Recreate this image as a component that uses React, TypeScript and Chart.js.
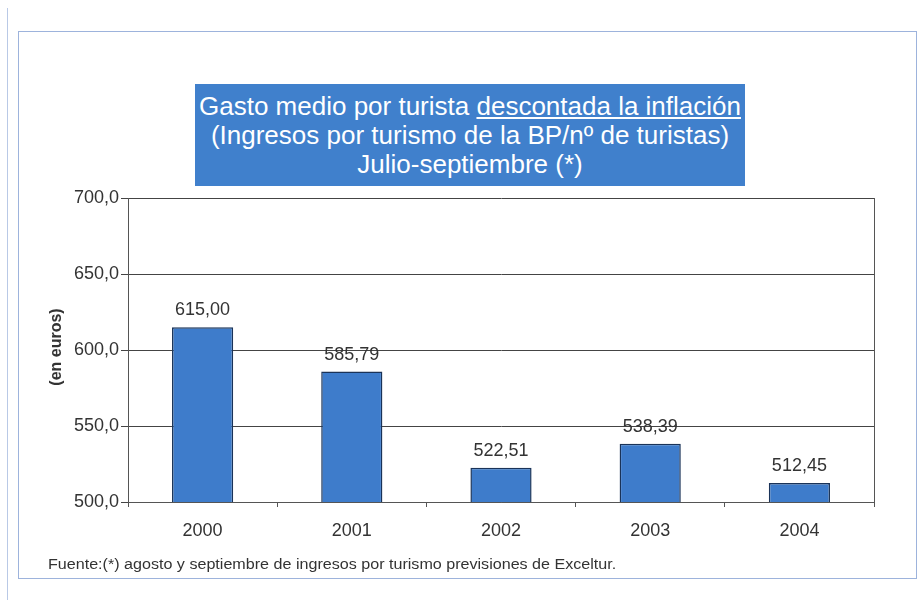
import React, { useEffect, useRef } from "react";
import { Chart, registerables } from "chart.js";

Chart.register(...registerables);

const categories = ["2000", "2001", "2002", "2003", "2004"];
const values = [615.0, 585.79, 522.51, 538.39, 512.45];
const yTicks = [500, 550, 600, 650, 700];
const titleLine1a = "Gasto medio por turista ";
const titleLine1b = "descontada la inflación";
const titleLine2 = "(Ingresos por turismo de la BP/nº de turistas)";
const titleLine3 = "Julio-septiembre (*)";
const yTitle = "(en euros)";
const footnote = "Fuente:(*) agosto y septiembre de ingresos por turismo previsiones de Exceltur.";

const fmt = (v: number, d: number) => v.toFixed(d).replace(".", ",");

const FONT = "Arial, 'Liberation Sans', Helvetica, sans-serif";

export default function App() {
  const ref = useRef<HTMLCanvasElement | null>(null);

  useEffect(() => {
    if (!ref.current) return;
    const extras = {
      id: "extras",
      afterDraw(chart: any) {
        const { ctx, chartArea } = chart;
        ctx.save();
        ctx.strokeStyle = "#555";
        ctx.lineWidth = 1;
        ctx.beginPath();
        ctx.moveTo(Math.round(chartArea.right) + 0.5, chartArea.top);
        ctx.lineTo(Math.round(chartArea.right) + 0.5, chartArea.bottom);
        ctx.stroke();
        const meta = chart.getDatasetMeta(0);
        ctx.fillStyle = "#333";
        ctx.font = `18px ${FONT}`;
        ctx.textAlign = "center";
        ctx.textBaseline = "bottom";
        meta.data.forEach((bar: any, i: number) => {
          ctx.fillText(fmt(values[i], 2), bar.x, bar.y - 8);
        });
        ctx.translate(57, (chartArea.top + chartArea.bottom) / 2 - 3);
        ctx.rotate(-Math.PI / 2);
        ctx.font = `bold 16px ${FONT}`;
        ctx.textBaseline = "middle";
        ctx.fillStyle = "#333";
        ctx.fillText(yTitle, 0, 0);
        ctx.restore();
      },
    };
    const chart = new Chart(ref.current, {
      type: "bar",
      data: {
        labels: categories,
        datasets: [
          {
            data: values,
            backgroundColor: "#3e7ccb",
            borderColor: "#1a3358",
            borderWidth: 1.5,
            borderSkipped: false,
            barPercentage: 0.41,
            categoryPercentage: 1,
          },
        ],
      },
      options: {
        responsive: false,
        animation: false,
        devicePixelRatio: 1,
        layout: { padding: { left: 20, right: 44, top: 198, bottom: 48 } },
        plugins: { legend: { display: false }, tooltip: { enabled: false }, title: { display: false } },
        scales: {
          x: {
            offset: true,
            grid: { display: true, drawOnChartArea: false, drawTicks: true, tickLength: 5, color: "#555", offset: true },
            border: { display: true, color: "#555" },
            ticks: { color: "#333", font: { size: 18, family: FONT }, padding: 13 },
            afterFit: (s: any) => { s.height = 50; },
          },
          y: {
            min: 500,
            max: 700,
            afterBuildTicks: (s: any) => { s.ticks = yTicks.map((v) => ({ value: v })); },
            grid: { color: "#444", lineWidth: 1, tickLength: 7 },
            border: { display: true, color: "#555" },
            ticks: {
              color: "#333",
              font: { size: 18, family: FONT },
              padding: 2,
              callback: (v: any) => fmt(Number(v), 1),
            },
            afterFit: (s: any) => { s.width = 108; },
          },
        },
      },
      plugins: [extras],
    } as any);
    return () => chart.destroy();
  }, []);

  return (
    <div style={{ position: "absolute", left: 0, top: 0, width: 918, height: 600, background: "#fff", fontFamily: FONT }}>
      <div style={{ position: "absolute", left: 7, top: 8, width: 1, height: 592, background: "#b9c9e6" }} />
      <div style={{ position: "absolute", left: 18, top: 31, width: 899, height: 548, border: "1px solid #9db3dc", boxSizing: "border-box" }} />
      <canvas ref={ref} width={918} height={600} style={{ position: "absolute", left: 0, top: 0, width: 918, height: 600 }} />
      <div
        style={{
          position: "absolute",
          left: 195,
          top: 84,
          width: 550,
          height: 102,
          background: "#4080cc",
          color: "#fff",
          fontSize: 26,
          lineHeight: "29px",
          textAlign: "center",
          paddingTop: 8,
          boxSizing: "border-box",
          whiteSpace: "nowrap",
        }}
      >
        <div>
          {titleLine1a}
          <span style={{ textDecoration: "underline" }}>{titleLine1b}</span>
        </div>
        <div>{titleLine2}</div>
        <div>{titleLine3}</div>
      </div>
      <div
        style={{
          position: "absolute",
          left: 48,
          top: 556,
          fontSize: 14,
          color: "#333",
          whiteSpace: "nowrap",
          transform: "scaleX(1.15)",
          transformOrigin: "left center",
        }}
      >
        {footnote}
      </div>
    </div>
  );
}
